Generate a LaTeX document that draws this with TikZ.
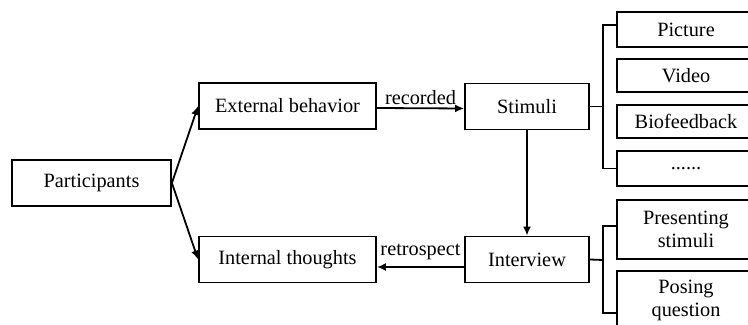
\documentclass[tikz,border=0pt]{standalone}
\usepackage{fontspec}
\setmainfont{Liberation Serif}
\usetikzlibrary{positioning,arrows.meta}
\tikzset{ >={Latex[length=4.5pt,width=4pt]} }
\tikzset{
	box/.style={draw, line width=.9pt, inner sep=0pt, align=center,
		font=\fontsize{10.15}{11.5}\selectfont},
	flow/.style={->, line width=.9pt},
	brace/.style={-, line width=.9pt},
	lbl/.style={font=\fontsize{10.15}{11.5}\selectfont, inner sep=1.5pt}
}
\def\Wide{88.5pt}		% width of the middle column
\def\Narrow{62pt}		% width of Stimuli / Interview
\def\Item{69pt}			% width of the items on the right
\def\Tall{23pt}			% height of the main boxes

\begin{document}
\begin{tikzpicture}[x=0.5pt, y=-0.5pt]
	% Picture frame (the items on the right run off the page)
	\useasboundingbox (0,0) rectangle (748,325);
	\clip (0,0) rectangle (748,325);
	% Main boxes
	\node[box, minimum width=79.5pt, minimum height=\Tall] (part) at (91.5,183)   {Participants};
	\node[box, minimum width=\Wide,  minimum height=\Tall] (ext)  at (287.5,106)  {External behavior};
	\node[box, minimum width=\Wide,  minimum height=\Tall] (intl) at (287.5,259.5){Internal thoughts};
	\node[box, minimum width=\Narrow,minimum height=\Tall] (stim) at (527,106.5)  {Stimuli};
	\node[box, minimum width=\Narrow,minimum height=\Tall] (iview)at (527,259.5)  {Interview};
	% Kinds of stimuli
	\node[box, minimum width=\Item, minimum height=17.5pt] (pic)  at (686,29.5)  {Picture};
	\node[box, minimum width=\Item, minimum height=16.5pt] (vid)  at (686,75.5)  {Video};
	\node[box, minimum width=\Item, minimum height=16.5pt] (bio)  at (686,121.5) {Biofeedback};
	\node[box, minimum width=\Item, minimum height=17.5pt] (more) at (686,168.5) {......};
	% Parts of the interview
	\node[box, minimum width=\Item, minimum height=29.5pt] (pres) at (686,229.5) {Presenting\\stimuli};
	\node[box, minimum width=\Item, minimum height=29.5pt] (pose) at (686,300.5) {Posing\\question};
	% Connectors
	\draw[flow] (part.east) -- (ext.west);
	\draw[flow] (part.east) -- (intl.west);
	\draw[flow] ([yshift=-1pt]ext.east) -- node[lbl, midway, above] {recorded} ([yshift=-1pt]stim.west);
	\draw[flow] (stim.south) -- (iview.north);
	\draw[flow] ([yshift=-3.75pt]iview.west) -- node[lbl, midway, above, yshift=1.5pt] {retrospect} ([yshift=-3.75pt]intl.east);
	% Brackets to the right
	\coordinate (sbr) at (603,106.5);
	\coordinate (ibr) at (603,260);
	\draw[brace] (stim.east) -- (sbr);
	\draw[brace] ([yshift=2.25pt]pic.west) -| (sbr) |- (more.west);
	\draw[brace] (iview.east) -- (ibr);
	\draw[brace] ([yshift=1.75pt]pres.west) -| (ibr) |- ([yshift=-6.25pt]pose.west);
\end{tikzpicture}
\end{document}
